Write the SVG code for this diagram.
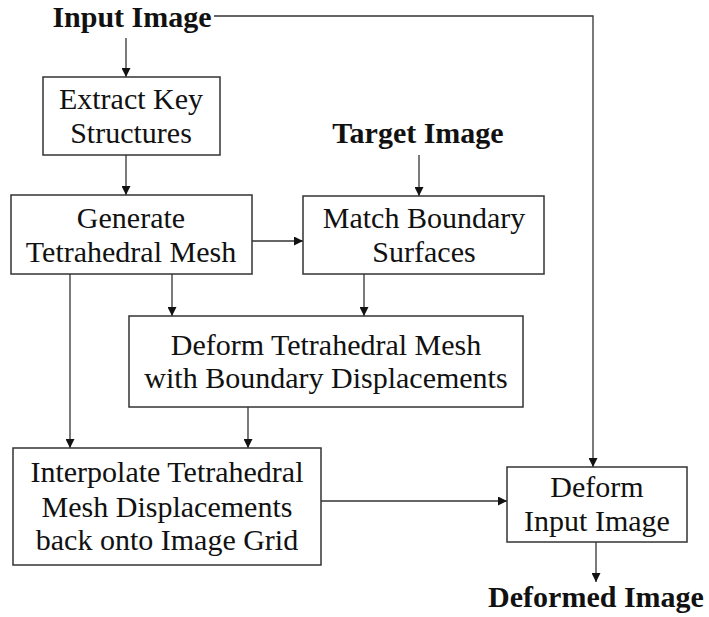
<svg xmlns="http://www.w3.org/2000/svg" width="709" height="617" viewBox="0 0 709 617">
<style>
.box{fill:#fff;stroke:#333;stroke-width:1.5}
.t{font-family:"Liberation Serif","Times New Roman",serif;font-size:30px;fill:#111;text-anchor:middle}
.b{font-family:"Liberation Serif","Times New Roman",serif;font-size:30px;font-weight:bold;fill:#111;text-anchor:middle}
.c{fill:none;stroke:#333;stroke-width:1.3}
</style>
<defs>
<marker id="ah" viewBox="0 0 10 10" refX="10" refY="5" markerWidth="10" markerHeight="9" markerUnits="userSpaceOnUse" orient="auto">
<path d="M0,0 L10,5 L0,10 z" fill="#111"/>
</marker>
</defs>
<g id="connectors">
<path class="c" d="M126,38 V77" marker-end="url(#ah)"/>
<path class="c" d="M214,16 H593 V467" marker-end="url(#ah)"/>
<path class="c" d="M126,155 V195" marker-end="url(#ah)"/>
<path class="c" d="M252,241 H303" marker-end="url(#ah)"/>
<path class="c" d="M419,155 V196" marker-end="url(#ah)"/>
<path class="c" d="M172,274 V316" marker-end="url(#ah)"/>
<path class="c" d="M364,274 V316" marker-end="url(#ah)"/>
<path class="c" d="M70,274 V448" marker-end="url(#ah)"/>
<path class="c" d="M248,407 V448" marker-end="url(#ah)"/>
<path class="c" d="M321,501 H507" marker-end="url(#ah)"/>
<path class="c" d="M596,542 V582" marker-end="url(#ah)"/>
</g>
<g id="input-image"><text class="b" x="132" y="27">Input Image</text></g>
<g id="target-image"><text class="b" x="418" y="143">Target Image</text></g>
<g id="deformed-image"><text class="b" x="596" y="607">Deformed Image</text></g>
<g id="extract">
<rect class="box" x="43" y="77" width="177" height="78"/>
<text class="t" x="131" y="109">Extract Key</text>
<text class="t" x="131" y="143">Structures</text>
</g>
<g id="generate">
<rect class="box" x="11" y="195" width="241" height="79"/>
<text class="t" x="131" y="228">Generate</text>
<text class="t" x="131" y="262">Tetrahedral Mesh</text>
</g>
<g id="match">
<rect class="box" x="303" y="196" width="241" height="78"/>
<text class="t" x="424" y="228">Match Boundary</text>
<text class="t" x="424" y="262">Surfaces</text>
</g>
<g id="deform-mesh">
<rect class="box" x="129" y="316" width="394" height="91"/>
<text class="t" x="326" y="355">Deform Tetrahedral Mesh</text>
<text class="t" x="326" y="388">with Boundary Displacements</text>
</g>
<g id="interpolate">
<rect class="box" x="13" y="448" width="308" height="117"/>
<text class="t" x="167" y="482">Interpolate Tetrahedral</text>
<text class="t" x="167" y="517">Mesh Displacements</text>
<text class="t" x="167" y="550">back onto Image Grid</text>
</g>
<g id="deform-input">
<rect class="box" x="507" y="467" width="180" height="75"/>
<text class="t" x="597" y="497">Deform</text>
<text class="t" x="597" y="531">Input Image</text>
</g>
</svg>
